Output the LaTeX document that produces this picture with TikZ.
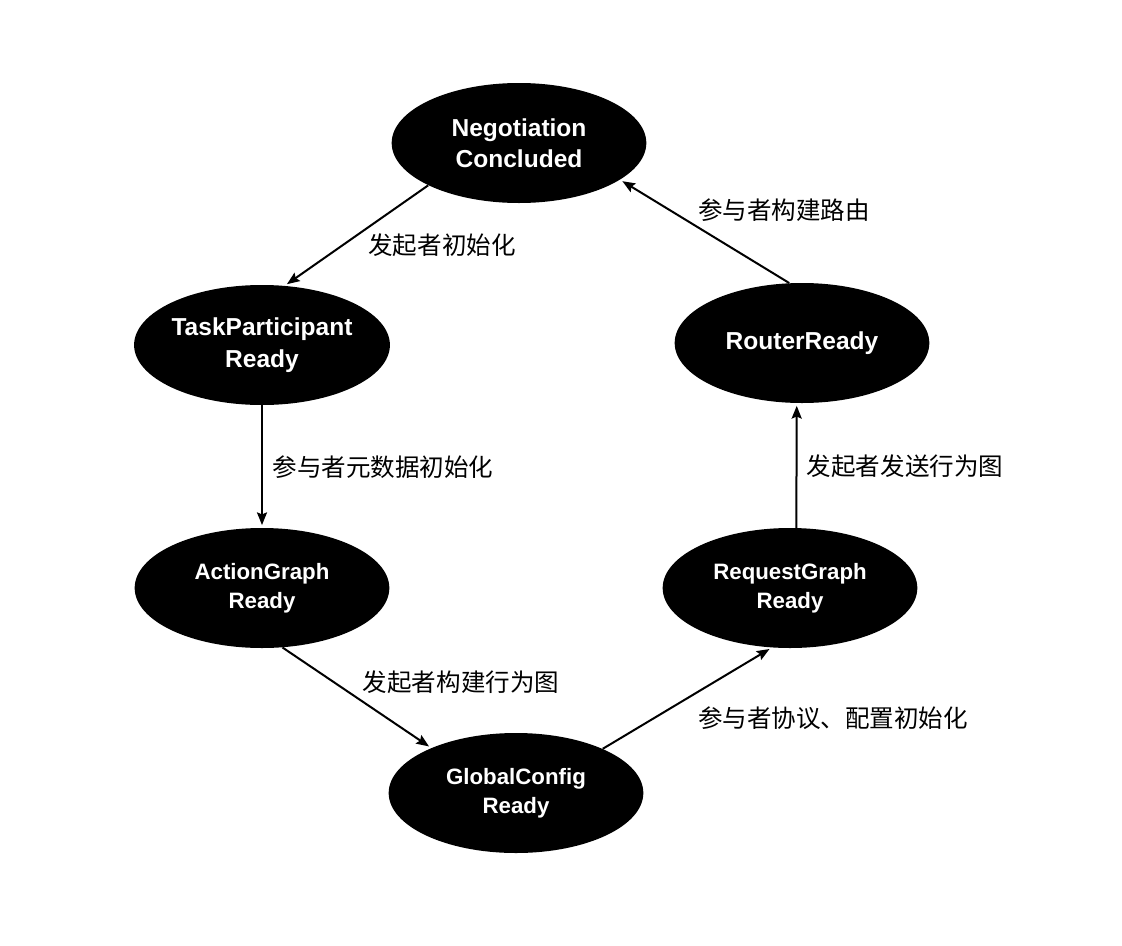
\documentclass[tikz,border=0pt]{standalone}
\usepackage{fontspec}
\setmainfont{Liberation Sans}
\newfontfamily\cjk{Noto Sans CJK SC}
\usetikzlibrary{shapes.geometric,arrows.meta}
\tikzstyle{state} = [ellipse, fill=black, text=white, align=center, inner sep=0pt,
	minimum width=191pt, minimum height=90pt]
\tikzstyle{bigstate} = [state, font=\fontsize{18.4}{23.5}\selectfont\bfseries]
\tikzstyle{smallstate} = [state, font=\fontsize{16.7}{22}\selectfont\bfseries]
\tikzstyle{edge} = [-{Stealth[length=9.5pt,width=7.5pt,inset=1.5pt]}, line width=1.5pt, shorten >=2pt]
\tikzstyle{lbl} = [font=\cjk\fontsize{18.4}{22}\selectfont, inner sep=0pt]

\begin{document}
\begin{tikzpicture}[x=0.75pt, y=-0.75pt]%
	\useasboundingbox (0,0) rectangle (1122,946);
	% states
	\node [bigstate] (neg) at (519,143) {Negotiation\\Concluded};
	\node [bigstate] (task) at (262,345) {TaskParticipant\\Ready};
	\node [smallstate] (act) at (262,588) {ActionGraph\\Ready};
	\node [smallstate] (glob) at (516,793) {GlobalConfig\\Ready};
	\node [smallstate] (req) at (790,588) {RequestGraph\\Ready};
	\node [bigstate] (rout) at (802,343) {RouterReady};
	% transitions
	\draw [edge] (neg.205) -- (task.69);
	\draw [edge] (task.south) -- (act.north);
	\draw [edge] (act.289) -- (glob.152);
	\draw [edge] (glob.27) -- (req.253);
	\draw [edge] (req.84) -- (rout.265);
	\draw [edge] (rout.102) -- (neg.340);
	% labels
	\node [lbl] (l1) at (442,245) {发起者初始化};
	\node [lbl] (l2) at (383,467) {参与者元数据初始化};
	\node [lbl] (l3) at (461,682) {发起者构建行为图};
	\node [lbl] (l4) at (833,718) {参与者协议、配置初始化};
	\node [lbl] (l5) at (905,466) {发起者发送行为图};
	\node [lbl] (l6) at (784,210) {参与者构建路由};
\end{tikzpicture}
\end{document}
